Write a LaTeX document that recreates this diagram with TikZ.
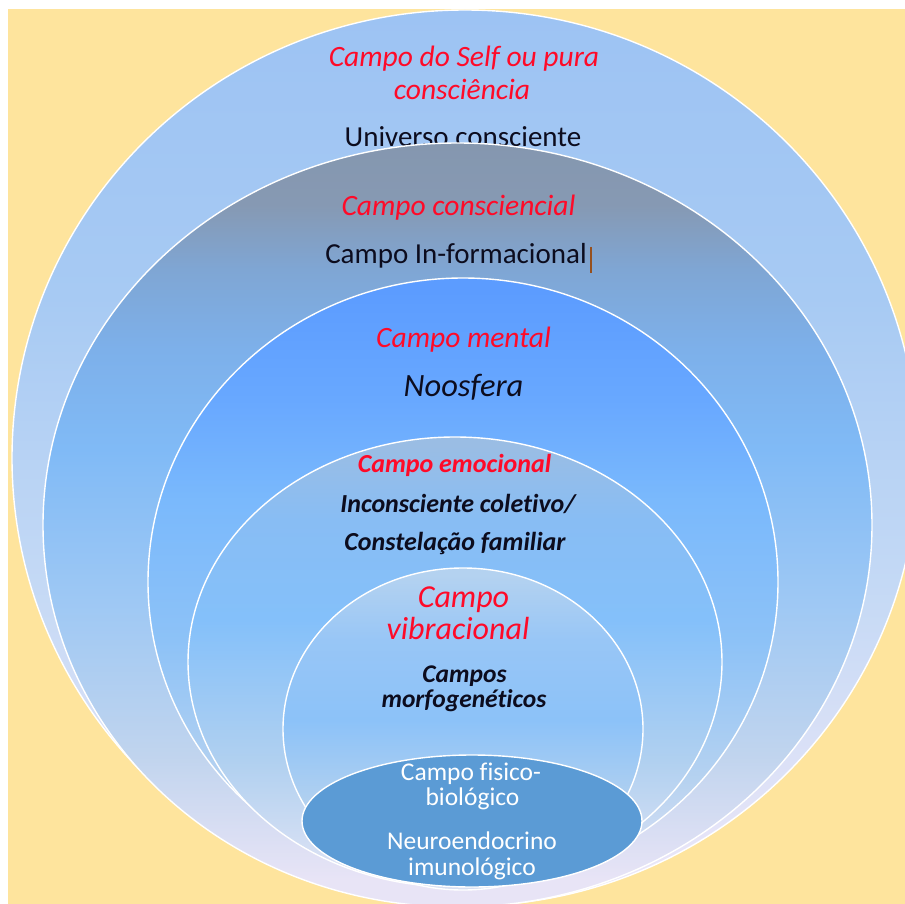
\documentclass[tikz,border=0pt]{standalone}
\usepackage{fontspec}
\setmainfont{Carlito}[Ligatures=NoCommon]
\usetikzlibrary{shadings}
\definecolor{bgyellow}{RGB}{254,228,157}
\definecolor{fieldred}{RGB}{255,10,40}
\definecolor{physblue}{RGB}{91,155,213}
\definecolor{txtdark}{RGB}{12,12,30}
% outer
\definecolor{oA}{HTML}{9DC3F3}\definecolor{oB}{HTML}{A7CAF3}\definecolor{oC}{HTML}{C4D9F5}\definecolor{oD}{HTML}{EAE6F8}
% ellipse 2
\definecolor{sA}{HTML}{8597AF}\definecolor{sB}{HTML}{8699B3}\definecolor{sC}{HTML}{7FA6D4}\definecolor{sD}{HTML}{7DB0EA}
\definecolor{sE}{HTML}{80BAF6}\definecolor{sF}{HTML}{9EC8F4}\definecolor{sG}{HTML}{C0D4EE}\definecolor{sH}{HTML}{E8E4F6}
% ellipse 3
\definecolor{mA}{HTML}{5C9CFF}\definecolor{mB}{HTML}{68A8FF}\definecolor{mC}{HTML}{7AB9FC}\definecolor{mD}{HTML}{8DC2F7}
\definecolor{mE}{HTML}{B6D2F0}\definecolor{mF}{HTML}{DDE2F4}
% ellipse 4
\definecolor{eA}{HTML}{9ABDE4}\definecolor{eB}{HTML}{88BDF4}\definecolor{eC}{HTML}{84C0FA}\definecolor{eD}{HTML}{B0D0F0}\definecolor{eE}{HTML}{DCE2F4}
% ellipse 5
\definecolor{vA}{HTML}{B4D2F0}\definecolor{vB}{HTML}{98C6F6}\definecolor{vC}{HTML}{8CC2F8}\definecolor{vD}{HTML}{B0D0F0}\definecolor{vE}{HTML}{D8E0F2}

\pgfdeclareverticalshading{outershade}{100bp}{color(0bp)=(oD); color(27bp)=(oD); color(43bp)=(oC); color(59bp)=(oB); color(75bp)=(oA); color(100bp)=(oA)}
\pgfdeclareverticalshading{conshade}{100bp}{color(0bp)=(sH); color(26.8bp)=(sH); color(35bp)=(sG); color(45bp)=(sF); color(55bp)=(sE); color(61.5bp)=(sD); color(66.7bp)=(sC); color(71bp)=(sB); color(75bp)=(sA); color(100bp)=(sA)}
\pgfdeclareverticalshading{mentshade}{100bp}{color(0bp)=(mF); color(26.3bp)=(mF); color(33.7bp)=(mE); color(45.2bp)=(mD); color(56.7bp)=(mC); color(65bp)=(mB); color(74bp)=(mA); color(100bp)=(mA)}
\pgfdeclareverticalshading{emoshade}{100bp}{color(0bp)=(eE); color(26.9bp)=(eE); color(39.1bp)=(eD); color(54.7bp)=(eC); color(65.8bp)=(eB); color(74.1bp)=(eA); color(100bp)=(eA)}
\pgfdeclareverticalshading{vibshade}{100bp}{color(0bp)=(vE); color(26.6bp)=(vE); color(39bp)=(vD); color(51.4bp)=(vC); color(63.8bp)=(vB); color(73.9bp)=(vA); color(100bp)=(vA)}

\tikzset{
  ring/.style={draw=white, line width=1.4pt},
  lbl/.style={inner sep=0pt, anchor=base},
  redlbl/.style={lbl, text=fieldred},
  darklbl/.style={lbl, text=txtdark},
  whitelbl/.style={lbl, text=white, font=\fontsize{25.5}{28}\selectfont},
}

\begin{document}
\begin{tikzpicture}[x=1pt, y=-1pt]
\useasboundingbox (0,0) rectangle (905,904);
\fill[white] (0,0) rectangle (905,904);
\fill[bgyellow] (8,9) rectangle (905,904);
\begin{scope}
\clip (8,9) rectangle (905,904);
% outer: Self
\path[ring, shading=outershade] (465,458) ellipse [x radius=453pt, y radius=448pt];
\node[redlbl, font=\fontsize{29.5}{32}\selectfont\itshape] (self1) at (464,67) {Campo do Self ou pura};
\node[redlbl, font=\fontsize{29.5}{32}\selectfont\itshape] (self2) at (462,100) {consciência};
\node[darklbl, font=\fontsize{29}{32}\selectfont] (univ) at (463,147) {Universo consciente};
% consciencial
\path[ring, shading=conshade] (457.5,525) ellipse [x radius=414.5pt, y radius=382pt];
\node[redlbl, font=\fontsize{29.5}{32}\selectfont\itshape] (cons) at (458.5,216) {Campo consciencial};
\node[darklbl, font=\fontsize{29}{32}\selectfont] (info) at (456,263) {Campo In-formacional};
\coordinate (curtop) at (591,247);
\coordinate (curbot) at (591,273);
\draw[draw={rgb,255:red,150;green,80;blue,30}, line width=1.2pt] (curtop) -- (curbot);
% mental
\path[ring, shading=mentshade] (463,582) ellipse [x radius=315pt, y radius=304pt];
\node[redlbl, font=\fontsize{29.5}{32}\selectfont\itshape] (ment) at (463.5,347) {Campo mental};
\node[darklbl, font=\fontsize{32.5}{36}\selectfont\itshape] (noos) at (463.5,396) {Noosfera};
% emocional
\path[ring, shading=emoshade] (455,662) ellipse [x radius=267pt, y radius=225pt];
\node[redlbl, font=\fontsize{26}{28}\selectfont\bfseries\itshape] (emo) at (454.5,472) {Campo emocional};
\node[darklbl, font=\fontsize{26}{28}\selectfont\bfseries\itshape] (inco) at (458,512) {Inconsciente coletivo/};
\node[darklbl, font=\fontsize{26}{28}\selectfont\bfseries\itshape] (cfam) at (455,550) {Constelação familiar};
% vibracional
\path[ring, shading=vibshade] (463,729) ellipse [x radius=180pt, y radius=161pt];
\node[redlbl, font=\fontsize{32}{34}\selectfont\itshape] (vib1) at (463.5,607) {Campo};
\node[redlbl, font=\fontsize{32}{34}\selectfont\itshape] (vib2) at (458,639) {vibracional};
\node[darklbl, font=\fontsize{25.5}{28}\selectfont\bfseries\itshape] (morf1) at (464.5,682) {Campos};
\node[darklbl, font=\fontsize{25.5}{28}\selectfont\bfseries\itshape] (morf2) at (464,707) {morfogenéticos};
% fisico-biologico
\path[ring, fill=physblue] (472,821) ellipse [x radius=170pt, y radius=66pt];
\node[whitelbl] (fis1) at (471,780) {Campo fisico-};
\node[whitelbl] (fis2) at (472.5,805) {biológico};
\node[whitelbl] (neu1) at (472,849) {Neuroendocrino};
\node[whitelbl] (neu2) at (472,875) {imunológico};
\end{scope}
\end{tikzpicture}
\end{document}
